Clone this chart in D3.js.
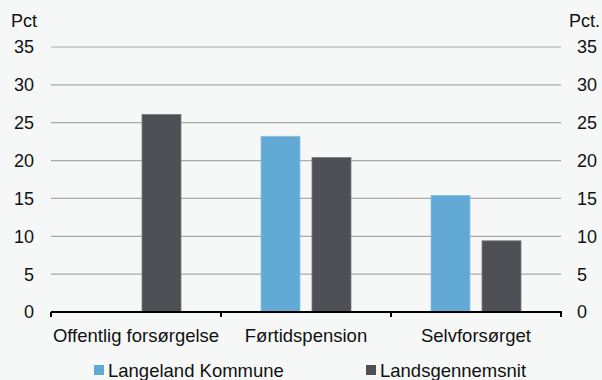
<!DOCTYPE html>
<html><head><meta charset="utf-8">
<script src="https://cdn.jsdelivr.net/npm/d3@7"></script>
<style>
html,body{margin:0;padding:0;background:#f6f8f8;}
svg{display:block;font-family:"Liberation Sans",Arial,sans-serif;}
</style></head>
<body><svg id="c" width="602" height="380"></svg>
<script>
const categories = ["Offentlig forsørgelse", "Førtidspension", "Selvforsørget"];
const seriesNames = ["Langeland Kommune", "Landsgennemsnit"];
const langeland = [null, 23.2, 15.4];
const landsgennemsnit = [26.1, 20.4, 9.4];
const yTicks = [0, 5, 10, 15, 20, 25, 30, 35];
const colors = ["#63a9d5", "#4f5055"];

const svg = d3.select("#c");
svg.append("rect").attr("width",602).attr("height",380).attr("fill","#f6f8f8");
const m = {l:51, r:561, t:47, b:312};
const x0 = d3.scaleBand().domain(categories).range([m.l, m.r]).paddingInner(0).paddingOuter(0);
const y = d3.scaleLinear().domain([0,35]).range([m.b, m.t]);

// gridlines
svg.append("g").selectAll("line").data(yTicks.filter(d=>d>0)).join("line")
  .attr("x1", m.l).attr("x2", m.r).attr("y1", d=>y(d)).attr("y2", d=>y(d))
  .attr("stroke","#a9a9a9").attr("stroke-width",1.2);

// left and right tick labels
svg.append("g").selectAll("text").data(yTicks).join("text")
  .attr("x", 34).attr("y", d=>y(d)).attr("dy","0.36em").attr("text-anchor","end")
  .attr("font-size",18).attr("fill","#111").text(d=>d);
svg.append("g").selectAll("text").data(yTicks).join("text")
  .attr("x", 577).attr("y", d=>y(d)).attr("dy","0.36em").attr("text-anchor","start")
  .attr("font-size",18).attr("fill","#111").text(d=>d);
svg.append("text").attr("x",11).attr("y",27).attr("font-size",18).attr("fill","#111").text("Pct");
svg.append("text").attr("x",569).attr("y",27).attr("font-size",18).attr("fill","#111").text("Pct.");

// bars
const barW = 39, gap = 12;
const offsets = [-(gap/2+barW), gap/2];
const series = [langeland, landsgennemsnit];
series.forEach((vals, si) => {
  svg.append("g").selectAll("rect").data(categories.map((c,i)=>({c, v: vals[i]})).filter(d=>d.v!=null))
    .join("rect")
    .attr("x", d => x0(d.c) + x0.bandwidth()/2 + offsets[si])
    .attr("width", barW)
    .attr("y", d => y(d.v))
    .attr("height", d => y(0) - y(d.v))
    .attr("fill", colors[si])
    .attr("stroke", si===0 ? "#8cc0e2" : "#7a7b80").attr("stroke-width",0.8);
});

// x axis
const gx = svg.append("g").attr("transform",`translate(0,${m.b})`);
gx.append("line").attr("x1",m.l).attr("x2",m.r+1).attr("y1",0).attr("y2",0).attr("stroke","#000").attr("stroke-width",2);
const bounds = [m.l].concat(categories.map(c=>x0(c)+x0.bandwidth()));
gx.selectAll("line.t").data(bounds).join("line").attr("class","t")
  .attr("x1",d=>d).attr("x2",d=>d).attr("y1",0).attr("y2",5).attr("stroke","#000").attr("stroke-width",2);
gx.selectAll("text.c").data(categories).join("text").attr("class","c")
  .attr("x", d=>x0(d)+x0.bandwidth()/2).attr("y", 29.7).attr("text-anchor","middle")
  .attr("font-size",18.5).attr("fill","#111").text(d=>d);

// legend
const legX = [94, 366];
seriesNames.forEach((n,i)=>{
  svg.append("rect").attr("x",legX[i]).attr("y",365).attr("width",10).attr("height",10).attr("fill",colors[i]);
  svg.append("text").attr("x",legX[i]+14).attr("y",376.5).attr("font-size",18.5).attr("fill","#111").text(n);
});
</script></body></html>
